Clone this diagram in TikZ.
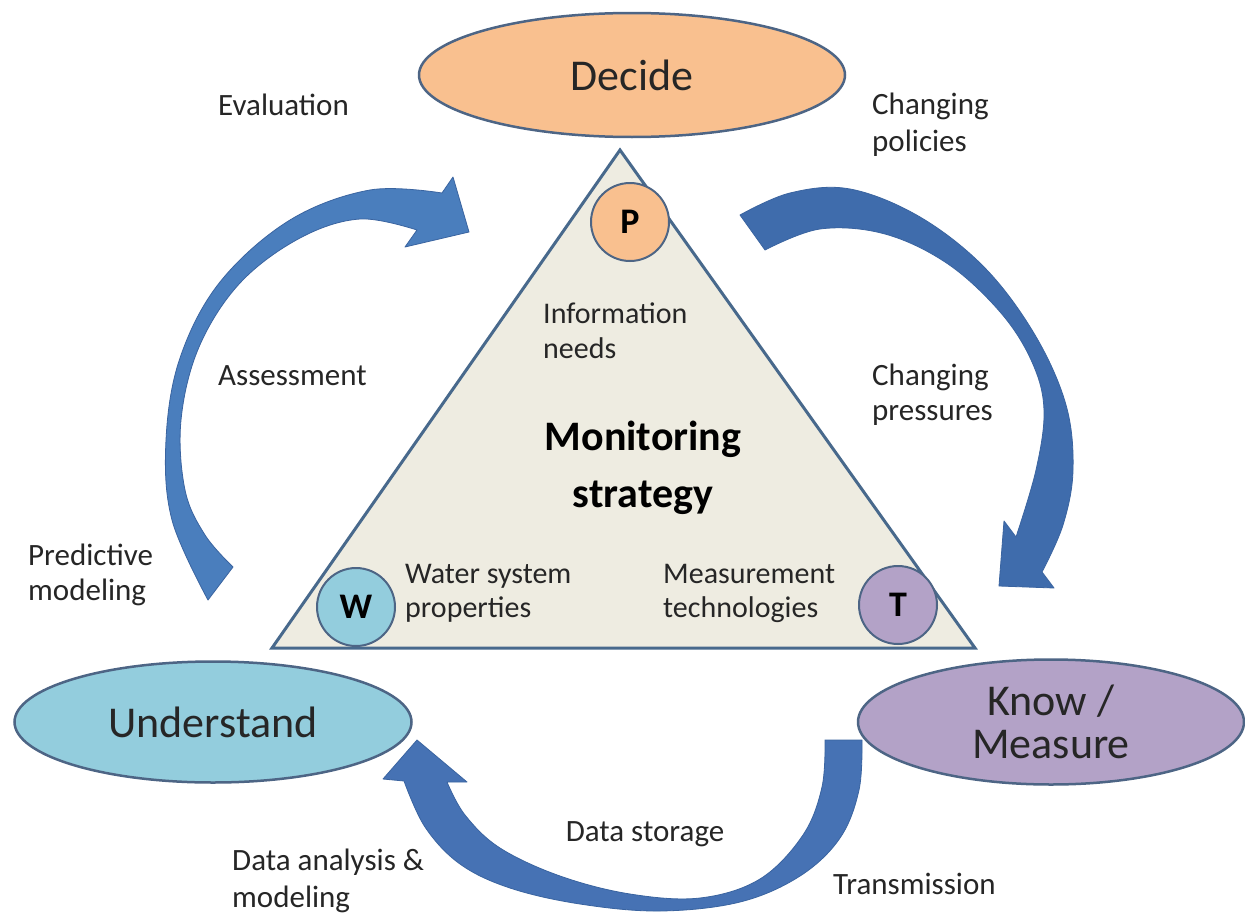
\documentclass[tikz,border=0pt]{standalone}
\usepackage{fontspec}
\setmainfont{Carlito}
\usetikzlibrary{shapes.geometric}
\definecolor{arrowblueA}{HTML}{4A7EBD}
\definecolor{arrowblueB}{HTML}{3F6CAC}
\definecolor{arrowblueC}{HTML}{4672B4}
\definecolor{arrowedge}{HTML}{3A64A0}
\definecolor{tribg}{HTML}{EEECE1}
\definecolor{triedge}{HTML}{48698C}
\definecolor{elledge}{HTML}{4D6585}
\definecolor{peach}{HTML}{F9C08F}
\definecolor{lblue}{HTML}{93CDDD}
\definecolor{lavender}{HTML}{B3A2C7}
\definecolor{txt}{HTML}{262626}
\begin{document}
\begin{tikzpicture}[x=1pt,y=-1pt,
  arrowshape/.style={draw=arrowedge, line width=0.8pt, line join=round},
  bigell/.style={ellipse, draw=elledge, line width=2.5pt, inner sep=0pt, text=txt, font=\fontsize{44}{46}\selectfont, align=center},
  letter/.style={circle, draw=elledge, line width=2pt, minimum size=78pt, inner sep=0pt, text=black, font=\bfseries\fontsize{36}{38}\selectfont},
  lbl/.style={inner sep=0pt, text=txt, font=\fontsize{31}{37}\selectfont, align=left, anchor=west},
  inlbl/.style={inner sep=0pt, text=txt, font=\fontsize{30}{35}\selectfont, align=left, anchor=west}]
\useasboundingbox[fill=white] (0,0) rectangle (1245,918);

% arrows
\fill[arrowshape, fill=arrowblueA] plot[smooth, tension=0.6] coordinates {(208,600) (172,520) (166,440) (180,358) (220,282) (290,220) (370,190) (442,193)}
  -- (453,177) -- (469,232) -- (405,247) -- (417,230)
  -- plot[smooth, tension=0.6] coordinates {(417,230) (360,219) (300,238) (240,283) (199,347) (181,420) (185,490) (205,535) (233,567)} -- cycle;
\fill[arrowshape, fill=arrowblueB] plot[smooth, tension=0.6] coordinates {(740,215) (790,193) (850,189) (920,217) (985,268) (1035,335) (1066,405) (1073,470) (1063,525) (1042,572)}
  -- (1054,588) -- (999,586) -- (1004,521) -- (1016,537)
  -- plot[smooth, tension=0.6] coordinates {(1016,537) (1036,470) (1044,410) (1032,362) (1001,313) (948,264) (885,234) (820,229) (765,250)} -- cycle;
\fill[arrowshape, fill=arrowblueC] (825,740) -- plot[smooth, tension=0.6] coordinates {(862,740) (859,790) (840,838) (800,876) (740,902) (660,911) (580,904) (510,888) (460,864) (425,827) (404,781)}
  -- (383,779) -- (417,740) -- (467,782) -- (447,782)
  -- plot[smooth, tension=0.6] coordinates {(447,782) (465,815) (500,848) (560,876) (630,894) (700,898) (760,879) (803,835) (822,787) (825,740)} -- cycle;

% triangle
\coordinate (apex) at (620,150);
\coordinate (bl) at (272,648);
\coordinate (br) at (975,648);
\draw[fill=tribg, draw=triedge, line width=3pt, line join=miter] (apex) -- (bl) -- (br) -- cycle;

% letter circles
\node[letter, fill=peach] (P) at (630,222) {P};
\node[letter, fill=lblue] (W) at (356,607) {W};
\node[letter, fill=lavender] (T) at (898,605) {T};

% ellipses
\node[bigell, fill=peach, minimum width=426pt, minimum height=124pt] (decide) at (632,75) {Decide};
\node[bigell, fill=lblue, minimum width=397pt, minimum height=121pt] (understand) at (213,722) {Understand};
\node[bigell, fill=lavender, minimum width=386pt, minimum height=125pt, font=\fontsize{44}{43}\selectfont] (know) at (1051,722) {Know /\\Measure};

% triangle texts
\node[inlbl] (info) at (543,331) {Information\\needs};
\node[inner sep=0pt, text=black, font=\bfseries\fontsize{42}{57}\selectfont, align=center] (mon) at (643,468) {Monitoring\\strategy};
\node[inlbl, font=\fontsize{30}{34}\selectfont] (wsp) at (405,593) {Water system\\properties};
\node[inlbl, font=\fontsize{30}{34}\selectfont] (mt) at (663,593) {Measurement\\technologies};

% outer labels
\node[lbl] (eval) at (218,105) {Evaluation};
\node[lbl] (cpol) at (872,125) {Changing\\policies};
\node[lbl] (assess) at (218,376) {Assessment};
\node[lbl, font=\fontsize{31}{35}\selectfont] (cpres) at (872,395) {Changing\\pressures};
\node[lbl, font=\fontsize{31}{35}\selectfont] (pred) at (28,575) {Predictive\\modeling};
\node[lbl] (dam) at (232,881) {Data analysis \&\\modeling};
\node[lbl, anchor=center] (ds) at (645,834) {Data storage};
\node[lbl] (trans) at (833,884) {Transmission};
\end{tikzpicture}
\end{document}
